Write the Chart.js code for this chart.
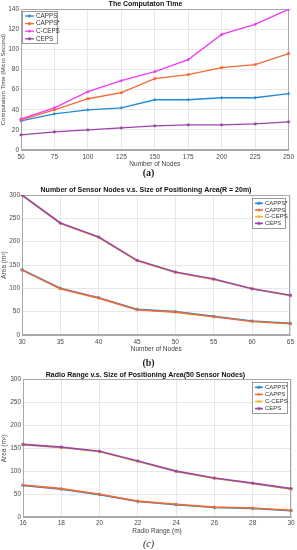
<!DOCTYPE html>
<html>
<head>
<meta charset="utf-8">
<script src="https://cdn.jsdelivr.net/npm/chart.js@4"></script>
<style>
  body { margin: 0; background: #fff; }
  #wrap { position: relative; width: 297px; height: 550px; overflow: hidden; }
  .box { position: absolute; left: 0; width: 297px; }
  .cap { position: absolute; left: 0; width: 297px; text-align: center; line-height: 12px;
         font-family: "Liberation Serif", "DejaVu Serif", serif; font-size: 10px; color: #222; }
</style>
</head>
<body>
<div id="wrap">
  <div class="box" style="top:0;height:168px"><canvas id="chartA" width="297" height="168"></canvas></div>
  <div class="cap" style="top:167px;font-weight:bold">(a)</div>
  <div class="box" style="top:183px;height:172px"><canvas id="chartB" width="297" height="172"></canvas></div>
  <div class="cap" style="top:357px;font-weight:bold">(b)</div>
  <div class="box" style="top:368px;height:168px"><canvas id="chartC" width="297" height="168"></canvas></div>
  <div class="cap" style="top:538px;font-style:italic">(c)</div>
</div>
<script>
// (a) computation time
const nodesA = [50, 75, 100, 125, 150, 175, 200, 225, 250];
const cappsA = [29, 36, 40, 42, 50, 50, 52, 52, 56];
const cappsStarA = [30, 40, 51, 57, 71, 75, 82, 85, 96];
const cCepsA = [31, 42, 58, 69, 78, 90, 115, 125, 140];
const cepsA = [15, 18, 20, 22, 24, 25, 25, 26, 28];
const yTicksA = [0, 140, 20]; // min, max, step

// (b) sensor nodes vs area
const nodesB = [30, 35, 40, 45, 50, 55, 60, 65];
const cappsStarB = [140, 100, 80, 55, 50, 40, 30, 25];
const cappsB = [139, 99, 79, 54, 49, 39, 29, 24];
const cCepsB = [299, 239, 209, 159, 134, 119, 99, 84];
const cepsB = [300, 240, 210, 160, 135, 120, 99, 85];

// (c) radio range vs area
const rangeC = [16, 18, 20, 22, 24, 26, 28, 30];
const cappsStarC = [70, 62, 50, 35, 28, 22, 20, 15];
const cappsC = [71, 63, 51, 36, 29, 23, 21, 16];
const cCepsC = [158, 152, 143, 122, 100, 85, 74, 62];
const cepsC = [159, 153, 144, 123, 101, 86, 75, 63];
const yTicksArea = [0, 300, 50];

const BLUE = '#2389d2';
const ORANGE = '#f26b34';
const MAGENTA = '#f03cf0';
const PURPLE = '#9b45a8';
const YELLOW = '#f2bd3a';
const FONT = '"Liberation Sans", Arial, sans-serif';

Chart.defaults.font.family = FONT;
Chart.defaults.font.size = 6.5;
Chart.defaults.color = '#4a4a4a';

// draws the matlab-like box around the axes
const framePlugin = {
  id: 'frame',
  beforeDatasetsDraw(chart) {
    const { ctx, chartArea: a } = chart;
    ctx.save();
    ctx.strokeStyle = '#a8a8a8';
    ctx.lineWidth = 1;
    ctx.strokeRect(Math.round(a.left) + 0.5, Math.round(a.top) + 0.5, Math.round(a.width) - 1, Math.round(a.height) - 1);
    ctx.restore();
  }
};

// legend box inside the plot
const boxLegend = {
  id: 'boxLegend',
  afterDatasetsDraw(chart, args, o) {
    const { ctx, chartArea: a } = chart;
    const x = Math.round(o.side === 'left' ? a.left + o.dx : a.right - o.dx - o.width);
    const y = Math.round(a.top + o.dy);
    ctx.save();
    ctx.fillStyle = '#fff';
    ctx.fillRect(x, y, o.width, o.height);
    ctx.strokeStyle = '#9a9a9a';
    ctx.lineWidth = 1;
    ctx.strokeRect(x + 0.5, y + 0.5, o.width, o.height);
    ctx.font = o.fontSize + 'px ' + FONT;
    ctx.textBaseline = 'middle';
    chart.data.datasets.forEach((ds, i) => {
      const ry = y + o.firstRow + i * o.rowHeight;
      const lx = x + 3;
      ctx.strokeStyle = ds.borderColor;
      ctx.fillStyle = ds.borderColor;
      ctx.lineWidth = ds.borderWidth;
      ctx.beginPath();
      ctx.moveTo(lx, ry);
      ctx.lineTo(lx + o.lineLen, ry);
      ctx.stroke();
      if (Chart.helpers && Chart.helpers.drawPoint) {
        ctx.lineWidth = ds.pointBorderWidth;
        Chart.helpers.drawPoint(ctx, { pointStyle: ds.pointStyle, radius: ds.pointRadius, borderWidth: ds.pointBorderWidth, rotation: 0 }, lx + o.lineLen / 2, ry);
      }
      ctx.fillStyle = '#333';
      ctx.fillText(ds.label, lx + o.lineLen + 2, ry);
    });
    ctx.restore();
  }
};

function series(label, data, color, style, width) {
  return {
    label: label,
    data: data,
    borderColor: color,
    backgroundColor: color,
    borderWidth: width,
    pointStyle: style,
    pointRadius: style === 'circle' ? 1 : 1.6,
    pointBorderWidth: 1,
    pointBackgroundColor: color,
    tension: 0,
    fill: false
  };
}

function makeChart(id, labels, datasets, cfg) {
  datasets.forEach((d, i) => { d.order = datasets.length - i; });
  return new Chart(document.getElementById(id), {
    type: 'line',
    data: { labels: labels, datasets: datasets },
    plugins: [framePlugin, boxLegend],
    options: {
      responsive: false,
      animation: false,
      layout: { padding: { left: 0, right: cfg.padRight, top: 0, bottom: 0 } },
      plugins: {
        legend: { display: false },
        tooltip: { enabled: false },
        title: {
          display: true,
          text: cfg.title,
          color: '#111',
          font: { size: 7, weight: 'bold' },
          padding: { top: cfg.titlePad[0], bottom: cfg.titlePad[1] }
        },
        boxLegend: cfg.legend
      },
      scales: {
        x: {
          type: 'category',
          offset: false,
          grid: { color: '#e8e8e8', drawTicks: false },
          border: { color: '#a8a8a8' },
          ticks: { padding: cfg.xTickPad, autoSkip: false, maxRotation: 0, color: '#4a4a4a', font: { size: 6.5 } },
          title: { display: true, text: cfg.xTitle, color: '#444', font: { size: 6.5 }, padding: { top: 0, bottom: cfg.xTitleBottom } },
          afterFit: s => { s.height = cfg.xHeight; }
        },
        y: {
          min: cfg.yTicks[0],
          max: cfg.yTicks[1],
          grid: { color: '#e8e8e8', drawTicks: false },
          border: { color: '#a8a8a8' },
          ticks: { stepSize: cfg.yTicks[2], padding: 2, color: '#4a4a4a', font: { size: 6.5 } },
          title: { display: true, text: cfg.yTitle, color: '#444', font: { size: cfg.yTitleSize }, padding: { top: 0, bottom: 0 } },
          afterFit: s => { s.width = cfg.yWidth; }
        }
      }
    }
  });
}

makeChart('chartA', nodesA, [
  series('CAPPS', cappsA, BLUE, 'cross', 1.3),
  series('CAPPS*', cappsStarA, ORANGE, 'star', 1.3),
  series('C-CEPS', cCepsA, MAGENTA, 'circle', 1.3),
  series('CEPS', cepsA, PURPLE, 'star', 1.3)
], {
  title: 'The Computaton Time',
  titlePad: [0, 0.9],
  xTitle: 'Number of Nodes',
  yTitle: 'Computation Time (Micro Second)',
  yTitleSize: 6,
  yTicks: yTicksA,
  yWidth: 21,
  xHeight: 18,
  xTickPad: 3,
  xTitleBottom: 0.3,
  padRight: 6,
  legend: { side: 'left', dx: 0.5, dy: 2, width: 35, height: 32, firstRow: 5, rowHeight: 7.6, fontSize: 6.3, lineLen: 9 }
});

makeChart('chartB', nodesB, [
  series('CAPPS*', cappsStarB, BLUE, 'star', 1.6),
  series('CAPPS', cappsB, ORANGE, 'cross', 1.6),
  series('C-CEPS', cCepsB, YELLOW, 'star', 1.6),
  series('CEPS', cepsB, PURPLE, 'star', 1.6)
], {
  title: 'Number of Sensor Nodes v.s. Size of Positioning Area(R = 20m)',
  titlePad: [2.8, 0.8],
  xTitle: 'Number of Nodes',
  yTitle: 'Area (m\u00b2)',
  yTitleSize: 6.5,
  yTicks: yTicksArea,
  yWidth: 22,
  xHeight: 20,
  xTickPad: 3,
  xTitleBottom: 2,
  padRight: 5,
  legend: { side: 'right', dx: 5, dy: 3, width: 33, height: 30, firstRow: 5.3, rowHeight: 6.7, fontSize: 6, lineLen: 8 }
});

makeChart('chartC', rangeC, [
  series('CAPPS*', cappsStarC, BLUE, 'star', 1.6),
  series('CAPPS', cappsC, ORANGE, 'cross', 1.6),
  series('C-CEPS', cCepsC, YELLOW, 'star', 1.6),
  series('CEPS', cepsC, PURPLE, 'star', 1.6)
], {
  title: 'Radio Range v.s. Size of Positioning Area(50 Sensor Nodes)',
  titlePad: [2.8, 0.1],
  xTitle: 'Radio Range (m)',
  yTitle: 'Area (m\u00b2)',
  yTitleSize: 6.5,
  yTicks: yTicksArea,
  yWidth: 23,
  xHeight: 18.3,
  xTickPad: 2,
  xTitleBottom: 1.1,
  padRight: 6,
  legend: { side: 'right', dx: 4, dy: 2.4, width: 35, height: 31, firstRow: 5.3, rowHeight: 7.1, fontSize: 6, lineLen: 8 }
});
</script>
</body>
</html>
